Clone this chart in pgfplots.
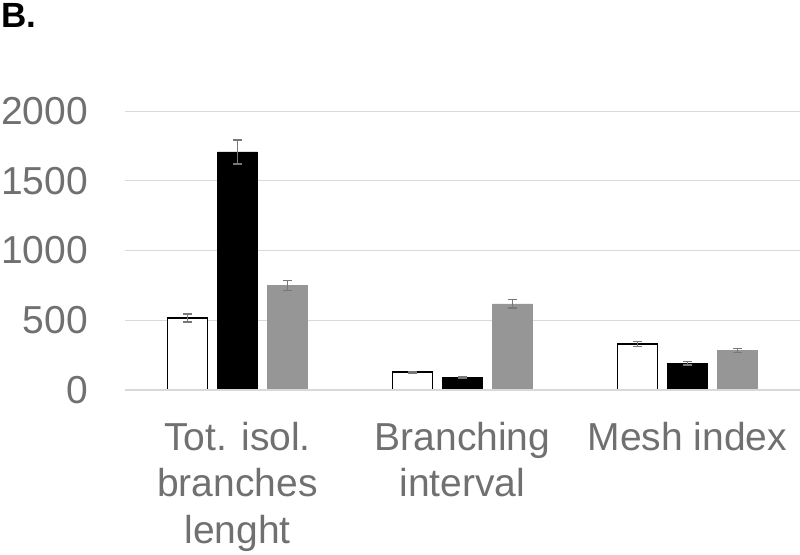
\documentclass[border=0pt]{standalone}
\usepackage{fontspec}
\setmainfont{Liberation Sans}
\usepackage{pgfplots}
\pgfplotsset{compat=1.18}
\definecolor{txtgray}{RGB}{112,112,112}
\definecolor{gridgray}{RGB}{217,217,217}
\definecolor{bargray}{RGB}{150,150,150}
\definecolor{errgray}{RGB}{120,120,120}
\begin{document}
\begin{tikzpicture}
\useasboundingbox (-125pt,-164pt) rectangle (675pt,390pt);
\begin{axis}[
  at={(0,0)}, anchor=south west,
  scale only axis, width=675pt, height=279pt,
  xmin=-0.5, xmax=2.5, ymin=0, ymax=2000,
  ytick={0,500,1000,1500,2000},
  xtick={0,1,2},
  xticklabels={{Tot. isol.\\branches\\lenght},{Branching\\interval},{Mesh index}},
  axis line style={draw=none},
  ymajorgrids, grid style={color=gridgray, line width=1pt},
  major tick length=0pt,
  tick style={draw=none},
  /pgf/number format/assume math mode=true,
  /pgf/number format/1000 sep={},
  yticklabel style={font=\fontsize{39}{46}\selectfont, color=txtgray, anchor=east, inner sep=0pt, xshift=-37pt},
  xticklabel style={font=\fontsize{39}{46.5}\selectfont, color=txtgray, align=center, anchor=north, inner sep=0pt, yshift=-32pt},
  ybar=10pt, bar width=40pt,
  clip=false,
  error bars/y dir=both, error bars/y explicit,
  error bars/error bar style={errgray, line width=1.3pt},
  error bars/error mark options={rotate=90, mark size=4.5pt, errgray, line width=1.3pt},
]
\addplot[draw=black, fill=white, line width=1.6pt] coordinates {(0,516) +- (0,28) (1,127) +- (0,5) (2,329) +- (0,19)};
\addplot[draw=black, fill=black, line width=0.5pt] coordinates {(0,1707) +- (0,86) (1,91) +- (0,6) (2,192) +- (0,12)};
\addplot[draw=bargray, fill=bargray, line width=0.5pt] coordinates {(0,749) +- (0,38) (1,617) +- (0,30) (2,285) +- (0,14)};
\draw[gridgray, line width=1.6pt] (axis cs:-0.5,0) -- (axis cs:2.5,0);
\end{axis}
\node[anchor=base west, inner sep=0pt, font=\fontsize{35}{42}\selectfont\bfseries] at (-124pt,362pt) {B.};
\end{tikzpicture}
\end{document}
